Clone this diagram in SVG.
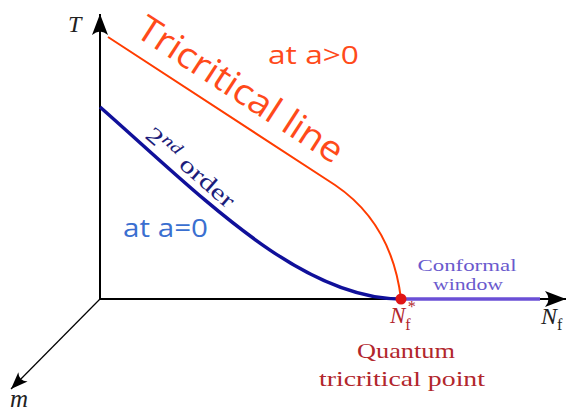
<svg xmlns="http://www.w3.org/2000/svg" width="572" height="411" viewBox="0 0 572 411">
<style>
.ax{stroke:#000;stroke-width:2;fill:none}
.serif{font-family:"Liberation Serif","DejaVu Serif",serif}
.sans{font-family:"Open Sans","Liberation Sans",sans-serif}
.it{font-style:italic}
</style>
<defs>
<marker id="ah" markerUnits="userSpaceOnUse" markerWidth="24" markerHeight="20" refX="0" refY="0" viewBox="-22 -10 24 20" orient="auto">
<path d="M0,0 L-21,-8 Q-14,0 -21,8 Z" fill="#000"/>
</marker>
<marker id="ahs" markerUnits="userSpaceOnUse" markerWidth="20" markerHeight="16" refX="0" refY="0" viewBox="-18 -8 20 16" orient="auto">
<path d="M0,0 L-17,-6.5 Q-11,0 -17,6.5 Z" fill="#000"/>
</marker>
</defs>
<rect width="572" height="411" fill="#fff"/>
<g id="axes">
<path class="ax" d="M100,299 L100,14" marker-end="url(#ah)"/>
<path class="ax" d="M100,299 L566,299" marker-end="url(#ah)"/>
<path d="M100,299 L11,389" stroke="#000" stroke-width="1.2" fill="none" marker-end="url(#ahs)"/>
<text class="serif it" x="68" y="32" font-size="24" fill="#222">T</text>
<text class="serif it" x="541" y="324" font-size="24" fill="#222">N<tspan font-style="normal" font-size="16" dy="6">f</tspan></text>
<text class="serif it" x="10" y="407" font-size="25" fill="#222">m</text>
</g>
<g id="connectors">
<path id="conformal" d="M401,299 L540,299" stroke="#6a4fd6" stroke-width="3.5" fill="none"/>
<path id="second-order" d="M100,107 C200,195 300,299 401,299" stroke="#10109a" stroke-width="3.5" fill="none"/>
<path id="tricritical" d="M108,37 L335,185 C375,212 395,250 401,299" stroke="#ff3c00" stroke-width="2" fill="none"/>
</g>
<g id="qtp">
<circle cx="401" cy="299" r="5.5" fill="#e01515"/>
<text class="serif it" x="390" y="323" font-size="23" fill="#b2262c">N<tspan font-style="normal" font-size="16" dy="7">f</tspan><tspan font-style="normal" font-size="16" dx="-3" dy="-18">*</tspan></text>
<text class="serif" x="406" y="358" font-size="22" fill="#b2262c" text-anchor="middle" textLength="98" lengthAdjust="spacingAndGlyphs">Quantum</text>
<text class="serif" x="402" y="386" font-size="22" fill="#b2262c" text-anchor="middle" textLength="166" lengthAdjust="spacingAndGlyphs">tricritical point</text>
</g>
<g id="labels">
<text class="sans" transform="translate(134,35) rotate(33)" font-size="36" fill="#ff4a1a" textLength="238" lengthAdjust="spacingAndGlyphs">Tricritical line</text>
<text class="sans" x="268" y="64" font-size="25" fill="#ff4a1a" textLength="91" lengthAdjust="spacingAndGlyphs">at a&gt;0</text>
<text class="sans" x="123" y="237" font-size="26" fill="#3a6fd0" textLength="85" lengthAdjust="spacingAndGlyphs">at a=0</text>
<text class="serif" transform="translate(144,137) rotate(41)" font-size="23" fill="#1c1c7a" textLength="110" lengthAdjust="spacingAndGlyphs">2<tspan font-style="italic" font-size="16" dy="-8">nd</tspan><tspan dy="8"> order</tspan></text>
<text class="serif" x="467" y="271" font-size="16" fill="#6a5acd" text-anchor="middle" textLength="99" lengthAdjust="spacingAndGlyphs">Conformal</text>
<text class="serif" x="468" y="290" font-size="16" fill="#6a5acd" text-anchor="middle" textLength="70" lengthAdjust="spacingAndGlyphs">window</text>
</g>
</svg>
